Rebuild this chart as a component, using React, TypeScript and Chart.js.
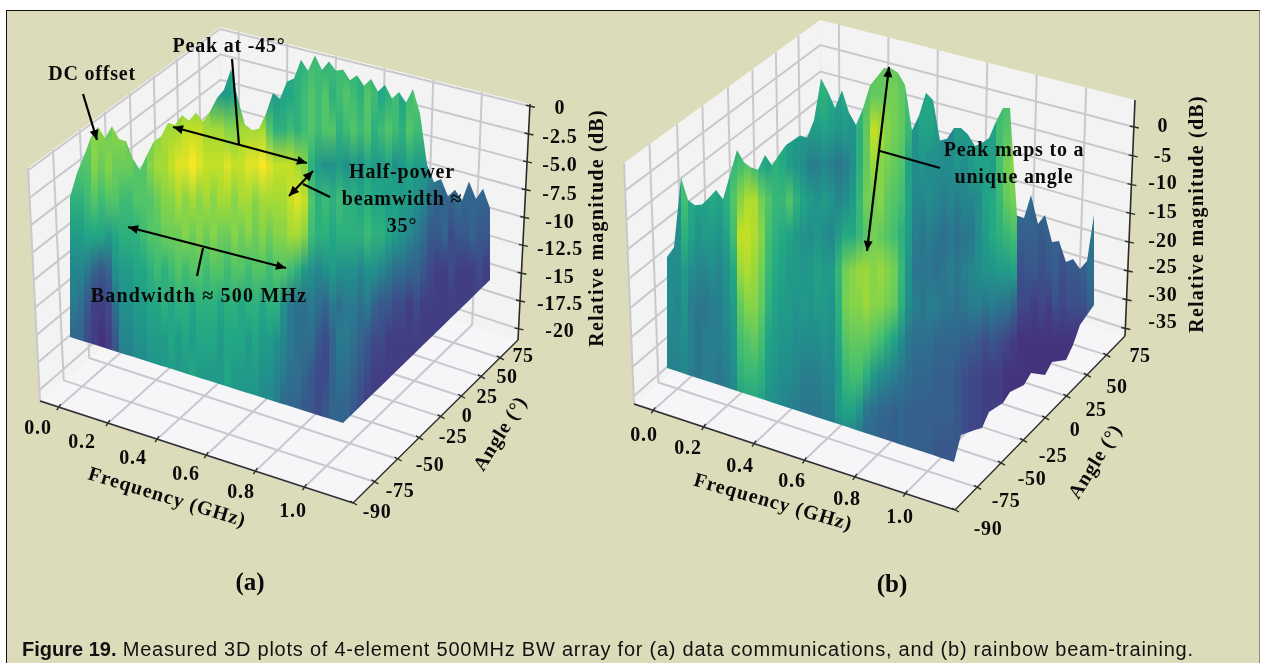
import { useEffect, useRef } from 'react';
import { Chart, registerables } from 'chart.js';

Chart.register(...registerables);

// ---- data ----
const freqTicks = [0, 0.2, 0.4, 0.6, 0.8, 1.0];
const freqLabels = ['0.0', '0.2', '0.4', '0.6', '0.8', '1.0'];
const angleLabels = ['-90', '-75', '-50', '-25', '0', '25', '50', '75'];
const angleFractions = [0, 0.13, 0.27, 0.4, 0.53, 0.655, 0.775, 0.89];
const zTicksA = [0, -2.5, -5, -7.5, -10, -12.5, -15, -17.5, -20];
const zLabelsA = ['0', '-2.5', '-5.0', '-7.5', '-10', '-12.5', '-15', '-17.5', '-20'];
const zTicksB = [0, -5, -10, -15, -20, -25, -30, -35];
const zLabelsB = ['0', '-5', '-10', '-15', '-20', '-25', '-30', '-35'];

// crest of the surface for each frequency column, dB
const crestA = [
  -12, -10.5, -9.4, -8.2, -7.5, -8, -7.2, -7.8, -7.8, -8.7,
  -9.2, -8.2, -7.3, -6.9, -6, -6, -5.3, -5.5, -4.9, -5.3,
  -4.6, -3.7, -3.1, -1.8, -3.4, -4.7, -4.9, -4.7, -3.7, -2.4,
  -2.6, -1.5, -1.2, 0, -0.5, 0.5, -0.2, 0.4, 0, 0.2,
  -0.8, -0.9, -1.9, -1.9, -3, -3, -4.2, -4.2, -5.2, -4.8,
  -6.6, -9.9, -11.3, -11.5, -12.9, -12.9, -13.9, -13.2, -14.6, -14.4, -15.9,
];
const crestB = [
  -24.9, -23.7, -16.5, -18.5, -18.8, -18.5, -17.6, -16.6, -17.3, -14.6,
  -11.9, -12.9, -13.2, -13.2, -11.5, -12.3, -11, -9.8, -9.1, -8.4,
  -8.4, -6.4, -2, -3.1, -4.5, -2.5, -4.5, -5.5, -3.6, -1.1,
  0, 1.1, 1.3, 1.1, 0.1, -4.2, -2.5, 0, -0.5, -4.3,
  -3.9, -2.6, -5.3, -6.2, -7.6, -7.5, -8.6, -7.4, -6.5, -7.6,
  -18.7, -19.3, -18.2, -21, -20, -24, -24, -26.2, -27.4, -30.4, -30.6, -27,
];

// colour magnitude (dB) per column, one list per elevation band of the picture
const bandsA = [
  [-8,-8,-8,-8,-8,-8,-8,-8,-8,-8, -8,-8,-8,-8,-8,-8,-8,-8,-8,-8, -9,-9,-9,-9,-9,-9,-9,-9,-9,-9, -9,-8,-8,-8,-7,-7,-8,-7,-7,-8, -8,-8,-8,-8,-8,-8,-8,-8,-8,-8, -15,-15,-15,-15,-15,-15,-15,-15,-15,-15],
  [-5,-5,-5,-5,-5,-5,-5,-5,-5,-5, -5,-5,-5,-5,-5,-5,-5,-5,-5,-5, -9,-10,-10,-9,-9,-9,-9,-9,-10,-10, -9,-9,-8,-7,-6,-7,-6,-8,-7,-6, -7,-8,-6,-7,-9,-8,-7,-9,-7,-6, -7,-15,-15,-15,-15,-15,-15,-15,-15,-15],
  [-5,-5,-5,-4,-4,-5,-4,-4,-5,-5, -6,-5,-4,-3,-3,-3,-2,-2,-2,-3, -3,-3,-4,-4,-3,-3,-3,-3,-6,-8, -8,-7,-8,-7,-6,-7,-6,-6,-8,-7, -6,-7,-6,-8,-7,-6,-7,-8,-6,-7, -7,-9,-15,-15,-15,-15,-15,-15,-15,-15],
  [-6,-6,-6,-4,-5,-4,-5,-5,-5,-6, -6,-4,-3,-3,-2,-1,-1,0,-1,-2, -2,-2,-1,-2,-2,-1,-1,0,-1,-2, -2,-2,-3,-4,-8,-10,-11,-11,-10,-11, -10,-11,-9,-10,-10,-9,-11,-10,-9,-10, -10,-11,-12,-14,-14,-14,-14,-14,-14,-14],
  [-8,-8,-7,-6,-7,-6,-6,-7,-7,-6, -6,-6,-5,-4,-4,-3,-4,-3,-4,-3, -4,-3,-3,-4,-3,-3,-4,-3,-3,-3, -3,-2,-1,-2,-6,-8,-7,-8,-7,-8, -8,-9,-8,-9,-9,-10,-9,-10,-10,-11, -12,-14,-15,-15,-15,-14,-15,-15,-15,-15],
  [-10,-10,-9,-9,-9,-10,-9,-8,-8,-8, -7,-6,-6,-5,-5,-5,-4,-5,-4,-5, -4,-5,-5,-4,-5,-4,-5,-4,-5,-4, -4,-3,-3,-4,-7,-8,-8,-9,-8,-8, -8,-8,-7,-8,-8,-9,-10,-11,-12,-13, -14,-16,-16,-15,-17,-16,-16,-15,-16,-16],
  [-12,-12,-13,-15,-16,-15,-11,-10,-10,-9, -9,-8,-7,-8,-7,-6,-7,-6,-6,-7, -6,-6,-7,-6,-6,-7,-6,-6,-7,-6, -6,-7,-8,-10,-11,-12,-11,-10,-11,-11, -11,-12,-11,-11,-12,-13,-14,-14,-15,-15, -16,-17,-18,-18,-17,-18,-18,-18,-17,-18],
  [-13,-14,-16,-18,-18,-17,-14,-11,-11,-10, -10,-9,-9,-8,-9,-8,-8,-9,-8,-8, -8,-9,-8,-8,-9,-8,-8,-9,-8,-8, -11,-13,-14,-14,-13,-14,-15,-13,-14,-13, -13,-14,-13,-15,-16,-16,-17,-17,-18,-17, -18,-18,-18,-18,-18,-18,-18,-18,-18,-18],
  [-15,-15,-17,-18,-19,-18,-16,-12,-12,-11, -11,-10,-10,-10,-9,-10,-9,-10,-9,-9, -9,-10,-9,-9,-9,-10,-9,-10,-10,-11, -12,-13,-14,-14,-14,-16,-17,-15,-13,-13, -14,-15,-16,-17,-17,-18,-18,-18,-18,-18, -18,-18,-18,-18,-18,-18,-18,-18,-18,-18],
  [-15,-15,-17,-18,-18,-18,-16,-13,-13,-12, -12,-11,-11,-10,-10,-10,-10,-9,-10,-10, -10,-10,-9,-10,-10,-10,-10,-11,-11,-12, -13,-14,-14,-15,-16,-17,-17,-15,-14,-14, -15,-16,-17,-18,-18,-18,-18,-18,-18,-18, -18,-18,-18,-18,-18,-18,-18,-18,-18,-18],
  [-15,-15,-17,-18,-18,-18,-16,-13,-13,-12, -12,-11,-11,-11,-10,-11,-10,-11,-10,-11, -11,-11,-10,-11,-11,-11,-11,-12,-12,-13, -15,-15,-15,-16,-16,-17,-16,-15,-15,-15, -16,-17,-18,-18,-18,-18,-18,-18,-18,-18, -18,-18,-18,-18,-18,-18,-18,-18,-18,-18],
];
const bandsB = [
  [-20,-20,-20,-20,-20,-20,-20,-20,-20,-20, -18,-18,-18,-18,-18,-18,-18,-18,-18,-18, -17,-17,-17,-18,-18,-17,-18,-16,-15,-14, -13,-13,-13,-14,-16,-20,-19,-19,-19,-20, -20,-20,-20,-20,-20,-20,-20,-20,-20,-20, -28,-28,-28,-28,-28,-28,-28,-28,-28,-28,-28],
  [-20,-20,-20,-20,-20,-20,-20,-20,-20,-20, -18,-18,-18,-18,-18,-18,-18,-18,-18,-18, -18,-17,-17,-18,-19,-18,-19,-15,-14,-13, -13,-12,-12,-13,-15,-20,-19,-18,-19,-20, -20,-20,-20,-20,-20,-20,-20,-16,-15,-15, -28,-28,-28,-28,-28,-28,-28,-28,-28,-28,-28],
  [-20,-20,-20,-20,-20,-20,-20,-20,-20,-20, -18,-18,-18,-18,-18,-18,-18,-19,-20,-20, -20,-20,-19,-20,-21,-20,-21,-17,-13,-8, -9,-11,-12,-13,-16,-21,-19,-19,-20,-22, -23,-20,-20,-20,-19,-20,-19,-15,-14,-13, -26,-26,-26,-26,-26,-26,-26,-26,-26,-26,-26],
  [-20,-20,-15,-17,-19,-19,-18,-18,-18,-16, -15,-14,-16,-18,-19,-17,-18,-20,-21,-22, -24,-24,-23,-24,-25,-24,-22,-17,-13,-10, -11,-12,-13,-14,-19,-22,-21,-22,-22,-22, -22,-21,-22,-20,-19,-19,-20,-15,-12,-11, -26,-26,-26,-26,-26,-26,-26,-26,-26,-26,-26],
  [-21,-21,-15,-18,-19,-19,-18,-19,-17,-14, -11,-9,-9,-12,-14,-16,-16,-14,-17,-19, -20,-21,-20,-21,-23,-22,-20,-16,-12,-12, -11,-13,-14,-15,-19,-23,-23,-22,-23,-24, -23,-24,-23,-23,-22,-19,-18,-16,-13,-12, -26,-26,-27,-26,-27,-27,-27,-27,-27,-27,-24],
  [-21,-22,-17,-19,-21,-20,-20,-21,-19,-15, -8,-8,-9,-11,-15,-17,-18,-19,-20,-21, -22,-21,-22,-23,-20,-18,-18,-16,-14,-12, -13,-14,-15,-17,-20,-24,-25,-24,-25,-26, -25,-26,-25,-25,-22,-20,-18,-17,-16,-15, -28,-28,-28,-29,-28,-28,-28,-28,-28,-28,-25],
  [-22,-22,-20,-22,-23,-23,-22,-23,-21,-18, -10,-9,-10,-12,-16,-18,-19,-20,-20,-21, -20,-19,-20,-20,-16,-12,-11,-10,-10,-11, -10,-11,-12,-16,-21,-25,-25,-25,-26,-25, -24,-25,-24,-23,-22,-21,-21,-20,-20,-19, -30,-29,-29,-30,-29,-28,-30,-29,-29,-28,-26],
  [-22,-23,-21,-24,-25,-25,-24,-24,-22,-20, -13,-11,-11,-13,-17,-19,-20,-20,-21,-20, -21,-20,-20,-21,-17,-12,-11,-11,-10,-11, -11,-12,-13,-17,-22,-24,-25,-24,-24,-25, -25,-26,-25,-24,-24,-25,-24,-25,-25,-27, -31,-31,-32,-31,-32,-30,-31,-30,-30,-30,-28],
  [-23,-23,-22,-24,-25,-24,-24,-24,-23,-21, -15,-14,-13,-15,-19,-20,-21,-21,-22,-22, -22,-22,-21,-22,-18,-14,-13,-13,-13,-14, -15,-17,-19,-22,-25,-26,-26,-26,-27,-27, -27,-27,-28,-28,-29,-30,-29,-30,-31,-32, -33,-33,-33,-33,-33,-33,-33,-33,-33,-33,-33],
  [-24,-24,-23,-24,-25,-24,-24,-25,-24,-22, -17,-16,-16,-17,-20,-21,-22,-22,-23,-24, -24,-24,-23,-23,-20,-16,-15,-15,-17,-20, -22,-23,-24,-25,-26,-27,-27,-27,-28,-28, -28,-29,-30,-31,-31,-32,-32,-32,-33,-33, -33,-33,-33,-33,-33,-33,-33,-33,-33,-33,-33],
  [-24,-24,-24,-24,-25,-25,-25,-25,-25,-24, -20,-20,-19,-20,-22,-22,-23,-24,-24,-25, -25,-25,-24,-24,-20,-19,-19,-21,-25,-26, -27,-27,-28,-27,-28,-28,-28,-28,-28,-28, -28,-29,-30,-31,-31,-32,-32,-32,-33,-33, -33,-33,-33,-33,-33,-33,-33,-33,-33,-33,-33],
  [-25,-25,-25,-25,-25,-25,-25,-25,-25,-25, -24,-24,-24,-24,-25,-25,-25,-25,-25,-25, -25,-25,-25,-25,-25,-24,-25,-26,-27,-27, -28,-28,-28,-27,-28,-28,-28,-28,-29,-29, -29,-29,-30,-31,-31,-32,-32,-32,-33,-33, -33,-33,-33,-33,-33,-33,-33,-33,-33,-33,-33],
];

// ---- layout ----
const viridis = ['#440154', '#482475', '#414487', '#355f8d', '#2a788e', '#21918c', '#22a884', '#44bf70', '#7ad151', '#bddf26', '#fde725'];
const SERIF = '"Liberation Serif", serif';
const SANS = '"Liberation Sans", sans-serif';

type P = [number, number];
const panelA = {
  L: [40, 401] as P, F: [353, 503] as P, R: [518, 340] as P, B: [222, 242] as P,
  TL: [28, 168] as P, TF: [357, 248] as P, TR: [530, 104] as P, TB: [220, 27] as P,
  zMin: -21, zMax: 0.2, zTicks: zTicksA, zLabels: zLabelsA,
  crest: crestA, bands: bandsA, x0: 70, bandY0: 60, lift0: -20, liftScale: 17.5, cMin: -22, cMax: 0,
  edge: [[70, 337], [343, 423], [490, 280]] as P[],
  zLabelX: 560,
  zLabelY: [109, 138, 166, 195, 223, 250, 278, 305, 332],
  freqPos: [[38, 429], [82, 443], [133, 459], [186, 475], [241, 493], [293, 512]] as P[],
  anglePos: [[377, 513], [400, 492], [430, 466], [453, 438], [467, 417], [487, 398], [507, 378], [523, 357]] as P[],
};
const panelB = {
  L: [634, 404] as P, F: [955, 510] as P, R: [1125, 336] as P, B: [822, 238] as P,
  TL: [624, 163] as P, TF: [959, 250] as P, TR: [1135, 100] as P, TB: [820, 20] as P,
  zMin: -36.3, zMax: 4.7, zTicks: zTicksB, zLabels: zLabelsB,
  crest: crestB, bands: bandsB, x0: 667, bandY0: 60, lift0: -36, liftScale: 10, cMin: -38, cMax: -5,
  edge: [[667, 368], [954, 462], [961, 435], [975, 430], [982, 428], [989, 412], [1003, 403], [1010, 392], [1024, 385], [1031, 373], [1045, 375], [1052, 362], [1066, 360], [1073, 345], [1080, 325], [1087, 315], [1094, 305]] as P[],
  zLabelX: 1163,
  zLabelY: [127, 157, 184, 213, 242, 268, 296, 323],
  freqPos: [[644, 436], [688, 449], [740, 467], [792, 482], [847, 500], [900, 518]] as P[],
  anglePos: [[988, 530], [1006, 502], [1032, 480], [1053, 457], [1075, 431], [1096, 411], [1117, 388], [1140, 357]] as P[],
};
type Panel = typeof panelA;

const mix = (a: P, b: P, t: number): P => [a[0] + (b[0] - a[0]) * t, a[1] + (b[1] - a[1]) * t];
function project(p: Panel, g: number, s: number, t: number): P {
  const low = mix(mix(p.L, p.F, g), mix(p.B, p.R, g), s);
  const high = mix(mix(p.TL, p.TF, g), mix(p.TB, p.TR, g), s);
  return mix(low, high, t);
}
const freqFrac = (f: number) => 0.06 + 0.785 * f;
const zFrac = (p: Panel, z: number) => (z - p.zMin) / (p.zMax - p.zMin);
function edgeY(p: Panel, x: number) {
  const e = p.edge;
  for (let i = 0; i < e.length - 1; i++) {
    if (x <= e[i + 1][0]) return e[i][1] + (e[i + 1][1] - e[i][1]) * (x - e[i][0]) / (e[i + 1][0] - e[i][0]);
  }
  return e[e.length - 1][1];
}
function colour(v: number, lo: number, hi: number) {
  const t = Math.max(0, Math.min(1, (v - lo) / (hi - lo))) * (viridis.length - 1);
  const i = Math.min(viridis.length - 2, Math.floor(t));
  const hex = (c: string) => [1, 3, 5].map((k) => parseInt(c.slice(k, k + 2), 16));
  const a = hex(viridis[i]);
  const b = hex(viridis[i + 1]);
  const f = t - i;
  return `rgb(${a.map((x, k) => Math.round(x + (b[k] - x) * f)).join(',')})`;
}

const toXY = (pts: P[]) => pts.map(([x, y]) => ({ x, y }));
const poly = (pts: P[], color: any) => ({ data: toXY(pts), showLine: true, fill: 'shape', backgroundColor: color, borderWidth: 0, pointRadius: 0, tension: 0, clip: false });
const seg = (pts: P[], color: string, w: number) => ({ data: toXY(pts), showLine: true, fill: false, borderColor: color, borderWidth: w, pointRadius: 0, tension: 0, clip: false, borderCapStyle: 'butt' });

function panelFrame(p: Panel) {
  const out: any[] = [];
  const wall = '#f3f3f4';
  out.push(poly([p.L, p.TL, p.TB, p.B], wall));
  out.push(poly([p.B, p.TB, p.TR, p.R], wall));
  out.push(poly([p.L, p.B, p.R, p.F], '#f6f6f8'));
  const grid = '#c9c9cd';
  const w = 2;
  freqTicks.forEach((f) => {
    const g = freqFrac(f);
    out.push(seg([project(p, g, 0, 0), project(p, g, 1, 0), project(p, g, 1, 1)], grid, w));
  });
  angleFractions.forEach((s) => {
    out.push(seg([project(p, 1, s, 0), project(p, 0, s, 0), project(p, 0, s, 1)], grid, w));
  });
  p.zTicks.forEach((z) => {
    const t = zFrac(p, z);
    out.push(seg([project(p, 0, 0, t), project(p, 0, 1, t), project(p, 1, 1, t)], grid, w));
  });
  const axis = '#2b2b2b';
  out.push(seg([p.L, p.F, p.R], axis, 1.4));
  out.push(seg([p.R, p.TR], axis, 1.6));
  freqTicks.forEach((f) => {
    const a = project(p, freqFrac(f), 0, 0);
    out.push(seg([[a[0] + 2, a[1] - 3], [a[0] - 2, a[1] + 3]], axis, 1.4));
  });
  angleFractions.forEach((s) => {
    const a = project(p, 1, s, 0);
    out.push(seg([[a[0] - 3, a[1] - 2], [a[0] + 4, a[1] + 2]], axis, 1.4));
  });
  p.zTicks.forEach((z) => {
    const a = project(p, 1, 1, zFrac(p, z));
    out.push(seg([[a[0] - 4, a[1] - 1], [a[0] + 5, a[1] + 1]], axis, 1.4));
  });
  return out;
}

function panelSurface(p: Panel) {
  const out: any[] = [];
  const xAt = (i: number) => p.x0 + 7 * i;
  const top = (i: number) => edgeY(p, xAt(i)) - (p.crest[i] - p.lift0) * p.liftScale;
  for (let i = 0; i < p.crest.length - 1; i++) {
    const pts: P[] = [[xAt(i), top(i)], [xAt(i + 1), top(i + 1)], [xAt(i + 1), edgeY(p, xAt(i + 1))], [xAt(i), edgeY(p, xAt(i))]];
    let cached: any = null;
    const fillFn = (c: any) => {
      if (cached) return cached;
      const n = p.bands.length;
      const k = c.chart.height / 663;
      const grad = c.chart.ctx.createLinearGradient(0, p.bandY0 * k, 0, (p.bandY0 + 35 * (n - 1)) * k);
      p.bands.forEach((row, j) => grad.addColorStop(j / (n - 1), colour(row[i], p.cMin, p.cMax)));
      cached = grad;
      return grad;
    };
    out.push(poly(pts, fillFn));
  }
  return out;
}

function arrow(tail: P, tip: P, double = false) {
  const head = (from: P, to: P): P[] => {
    const dx = to[0] - from[0];
    const dy = to[1] - from[1];
    const l = Math.hypot(dx, dy);
    const ux = dx / l;
    const uy = dy / l;
    const len = 10;
    const hw = 4.5;
    const b: P = [to[0] - ux * len, to[1] - uy * len];
    return [to, [b[0] - uy * hw, b[1] + ux * hw], [b[0] + uy * hw, b[1] - ux * hw]];
  };
  const out: any[] = [seg([tail, tip], '#000', 2.2), poly(head(tail, tip), '#000')];
  if (double) out.push(poly(head(tip, tail), '#000'));
  return out;
}

const annotations = [
  ...arrow([83, 94], [97, 140]),
  ...arrow([173, 127], [307, 163], true),
  seg([[232, 59], [239, 145]], '#000', 2.2),
  ...arrow([313, 171], [289, 196], true),
  seg([[303, 184], [330, 197]], '#000', 2.2),
  ...arrow([128, 227], [286, 268], true),
  seg([[203, 248], [197, 276]], '#000', 2.2),
  ...arrow([889, 67], [867, 251], true),
  seg([[880, 151], [940, 168]], '#000', 2.2),
];

type T = { s: string; x: number; y: number; font: string; rot?: number; sp?: string; align?: CanvasTextAlign };
const lab = `bold 20px ${SERIF}`;
const note = `bold 20px ${SERIF}`;
function panelTexts(p: Panel, freqTitle: P, freqRot: number, angTitle: P, zTitle: P, zSp: string): T[] {
  const out: T[] = [];
  freqLabels.forEach((s, i) => out.push({ s, x: p.freqPos[i][0], y: p.freqPos[i][1], font: lab, sp: '0.8px' }));
  angleLabels.forEach((s, i) => out.push({ s, x: p.anglePos[i][0], y: p.anglePos[i][1], font: lab, sp: '0.6px' }));
  p.zLabels.forEach((s, i) => out.push({ s, x: p.zLabelX, y: p.zLabelY[i], font: lab, sp: '0.9px' }));
  out.push({ s: 'Frequency (GHz)', x: freqTitle[0], y: freqTitle[1], font: lab, rot: freqRot, sp: '1px' });
  out.push({ s: 'Angle (°)', x: angTitle[0], y: angTitle[1], font: lab, rot: -58, sp: '0.8px' });
  out.push({ s: 'Relative magnitude (dB)', x: zTitle[0], y: zTitle[1], font: lab, rot: -90, sp: zSp });
  return out;
}
const texts: T[] = [
  ...panelTexts(panelA, [167, 498], 17, [501, 434], [598, 228], '1.25px'),
  ...panelTexts(panelB, [773, 503], 16, [1096, 462], [1198, 214], '1.25px'),
  { s: 'DC offset', x: 92, y: 75, font: note, sp: '0.8px' },
  { s: 'Peak at -45°', x: 229, y: 47, font: note, sp: '0.8px' },
  { s: 'Half-power', x: 402, y: 173, font: note, sp: '0.8px' },
  { s: 'beamwidth ≈', x: 402, y: 200, font: note, sp: '0.8px' },
  { s: '35°', x: 402, y: 227, font: note, sp: '0.8px' },
  { s: 'Bandwidth ≈ 500 MHz', x: 199, y: 297, font: note, sp: '1.2px' },
  { s: 'Peak maps to a', x: 1014, y: 151, font: note, sp: '0.8px' },
  { s: 'unique angle', x: 1014, y: 178, font: note, sp: '0.8px' },
  { s: '(a)', x: 250, y: 584, font: `bold 25px ${SERIF}` },
  { s: '(b)', x: 892, y: 586, font: `bold 25px ${SERIF}` },
];
const captionBold = 'Figure 19.';
const captionRest = ' Measured 3D plots of 4-element 500MHz BW array for (a) data communications, and (b) rainbow beam-training.';

const textPlugin = {
  id: 'labels3d',
  afterDatasetsDraw(chart: any) {
    const { ctx, scales } = chart;
    ctx.save();
    ctx.fillStyle = '#0a0a0a';
    ctx.textBaseline = 'middle';
    texts.forEach((t) => {
      ctx.save();
      ctx.translate(scales.x.getPixelForValue(t.x), scales.y.getPixelForValue(t.y));
      if (t.rot) ctx.rotate((t.rot * Math.PI) / 180);
      ctx.font = t.font;
      ctx.textAlign = t.align ?? 'center';
      (ctx as any).letterSpacing = t.sp ?? '0px';
      ctx.fillText(t.s, 0, 0);
      ctx.restore();
    });
    ctx.textAlign = 'left';
    ctx.fillStyle = '#111';
    ctx.font = `bold 20px ${SANS}`;
    ctx.fillText(captionBold, 22, 650);
    const w = ctx.measureText(captionBold).width;
    ctx.font = `20px ${SANS}`;
    (ctx as any).letterSpacing = '0.76px';
    ctx.fillText(captionRest, 22 + w, 650);
    ctx.restore();
  },
};

export default function App() {
  const ref = useRef<HTMLCanvasElement>(null);
  useEffect(() => {
    if (!ref.current) return;
    const datasets = [
      ...panelFrame(panelA),
      ...panelSurface(panelA),
      ...panelFrame(panelB),
      ...panelSurface(panelB),
      ...annotations,
    ].reverse();
    const chart = new Chart(ref.current, {
      type: 'scatter',
      data: { datasets },
      options: {
        animation: false,
        responsive: false,
        devicePixelRatio: 1,
        events: [],
        layout: { padding: 0 },
        plugins: { legend: { display: false }, tooltip: { enabled: false }, title: { display: false } },
        scales: {
          x: { type: 'linear', min: 0, max: 1261, display: false },
          y: { type: 'linear', min: 0, max: 663, reverse: true, display: false },
        },
      },
      plugins: [textPlugin],
    } as any);
    return () => chart.destroy();
  }, []);
  return (
    <div style={{ position: 'fixed', left: 0, top: 0, width: 1261, height: 663, background: '#fff', overflow: 'hidden' }}>
      <div style={{ position: 'absolute', left: 6, top: 10, width: 1254, height: 660, boxSizing: 'border-box', background: '#dddcba', borderTop: '1.5px solid #111', borderLeft: '1.5px solid #111', borderRight: '1px solid #8a8a80' }} />
      <canvas ref={ref} width={1261} height={663} style={{ position: 'absolute', left: 0, top: 0, display: 'block', filter: 'blur(0.5px)' }} />
    </div>
  );
}
